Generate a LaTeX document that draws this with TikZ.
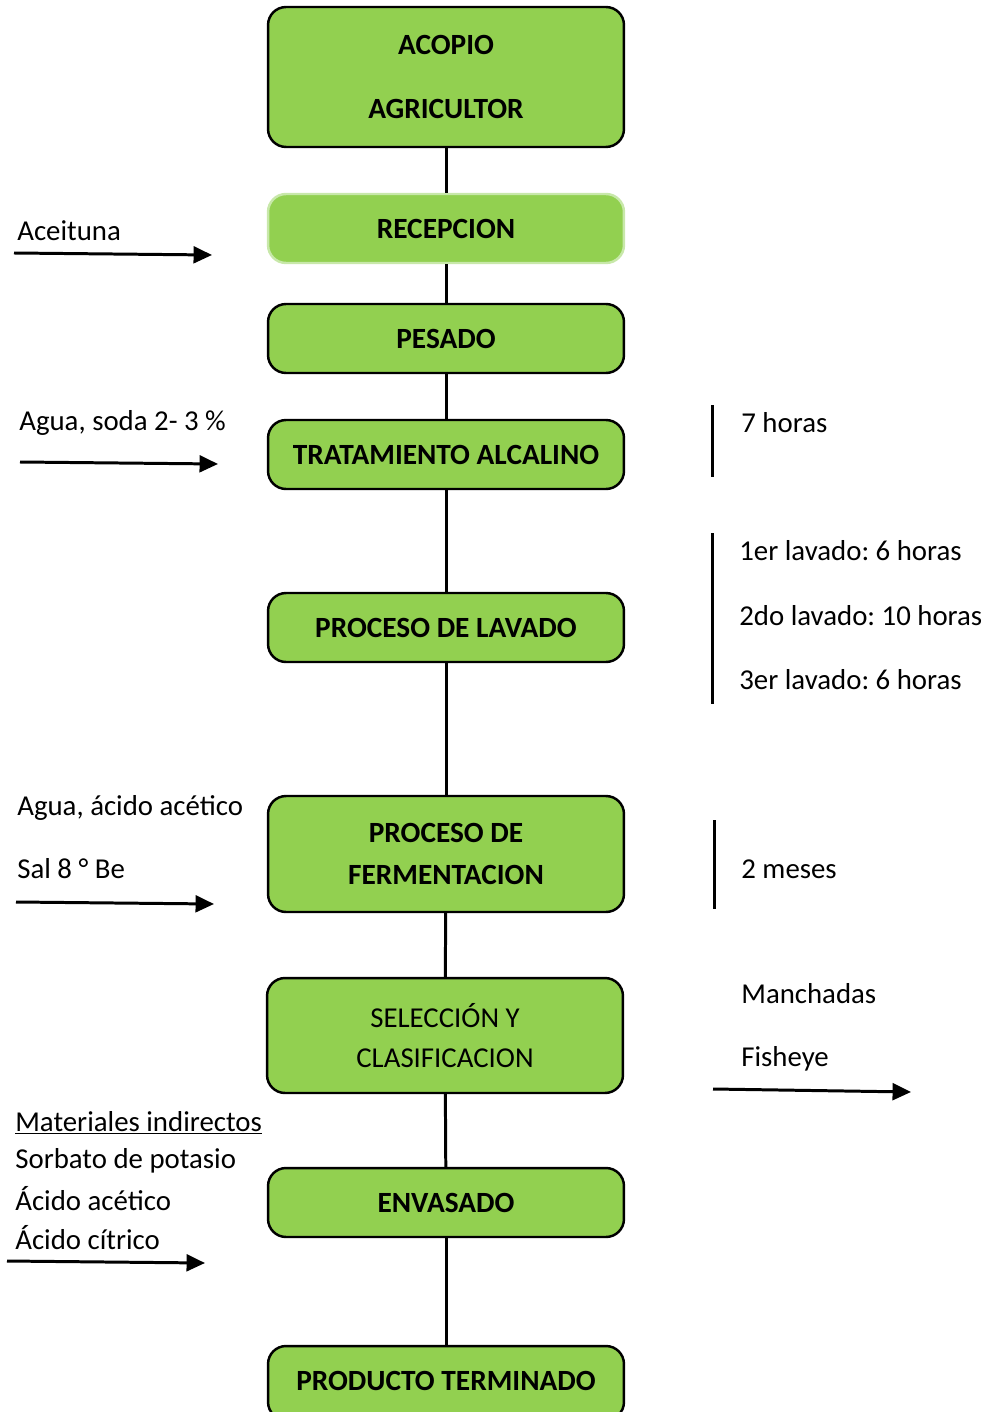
\documentclass[tikz,border=0pt]{standalone}
\usepackage{fontspec}
\setmainfont{Carlito}
\usetikzlibrary{arrows.meta}
\definecolor{verde}{HTML}{92D050}
\definecolor{verdeclaro}{HTML}{C8E8AA}
\frenchspacing
\tikzset{
  caja/.style={draw=black, line width=1.4pt, fill=verde, rounded corners=0.36cm,
    minimum width=7.12cm, minimum height=1.38cm, inner sep=0pt, align=center,
    font=\bfseries\fontsize{16.7}{23.8}\selectfont},
  texto/.style={anchor=west, inner sep=0pt, font=\fontsize{16.4}{19}\selectfont},
  flecha/.style={line width=1.7pt, -{Triangle[length=10.5pt,width=9.5pt]}},
  linea/.style={line width=1.7pt},
}
\begin{document}
\begin{tikzpicture}[x=0.02cm,y=-0.02cm]
\useasboundingbox (0,0) rectangle (990,1412);

% etapas del proceso
\node[caja, minimum height=2.8cm] (acopio) at (446,77) {ACOPIO\\[12.5pt]AGRICULTOR};
\node[caja, draw=verdeclaro] (recepcion) at (446,228.5) {RECEPCION};
\node[caja] (pesado) at (446,338.5) {PESADO};
\node[caja] (alcalino) at (446,454.5) {TRATAMIENTO ALCALINO};
\node[caja] (lavado) at (446,627.5) {PROCESO DE LAVADO};
\node[caja, minimum height=2.32cm] (fermentacion) at (446,854) {PROCESO DE\\FERMENTACION};
\node[caja, minimum height=2.3cm, font=\fontsize{16.4}{23.2}\selectfont] (seleccion) at (445,1035.5) {SELECCIÓN Y\\CLASIFICACION};
\node[caja] (envasado) at (446,1202.5) {ENVASADO};
\node[caja, minimum height=1.48cm] (producto) at (446,1383) {};
\node[font=\bfseries\fontsize{16.7}{19}\selectfont, inner sep=0pt] (productotxt) at (446,1381) {PRODUCTO TERMINADO};

\foreach \a/\b in {acopio/recepcion, recepcion/pesado, pesado/alcalino, alcalino/lavado,
    lavado/fermentacion, fermentacion/seleccion, seleccion/envasado, envasado/producto}{
    \draw[linea] (\a) -- (\b);
}

% entradas
\node[texto] (aceituna) at (17,231) {Aceituna};
\coordinate (aceitunaA) at (14,253);
\coordinate (aceitunaB) at (212,255);
\draw[flecha] (aceitunaA) -- (aceitunaB);

\node[texto] (soda) at (19,423) {Agua, soda 2- 3 \%};
\coordinate (sodaA) at (20,462);
\coordinate (sodaB) at (218,464);
\draw[flecha] (sodaA) -- (sodaB);

\node[texto] (acetico) at (17,808) {Agua, ácido acético};
\node[texto] (sal) at (17,869) {Sal 8 ° Be};
\coordinate (salA) at (16,902);
\coordinate (salB) at (214,904);
\draw[flecha] (salA) -- (salB);

\foreach \t/\y in {\underline{Materiales indirectos}/1123, Sorbato de potasio/1161, Ácido acético/1199, Ácido cítrico/1238}{
    \node[texto] at (15,\y) {\t};
}
\coordinate (materialesA) at (7,1261);
\coordinate (materialesB) at (205,1263);
\draw[flecha] (materialesA) -- (materialesB);

% tiempos
\draw[linea] (712,405) -- (712,477);
\node[texto] (siete) at (741,423) {7 horas};

\draw[linea] (712,533) -- (712,704);
\foreach \t/\y in {1er lavado: 6 horas/551, 2do lavado: 10 horas/616, 3er lavado: 6 horas/680}{
    \node[texto] at (739,\y) {\t};
}

\draw[linea] (714,820) -- (714,909);
\node[texto] (meses) at (741,869) {2 meses};

% salidas
\node[texto] (manchadas) at (741,994) {Manchadas};
\node[texto] (fisheye) at (741,1059) {Fisheye};
\coordinate (salidaA) at (713,1089);
\coordinate (salidaB) at (911,1092);
\draw[flecha] (salidaA) -- (salidaB);
\end{tikzpicture}
\end{document}
